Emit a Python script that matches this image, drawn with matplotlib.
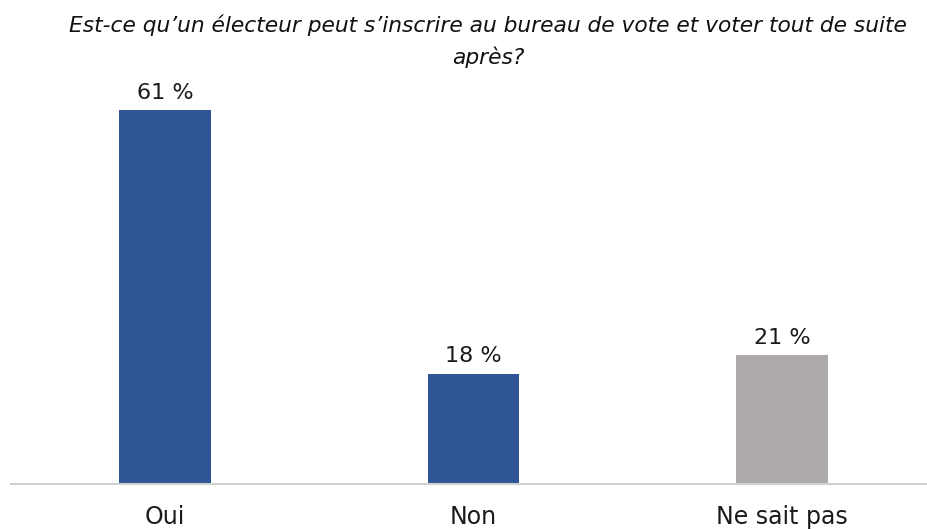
import matplotlib
matplotlib.use("Agg")
import matplotlib.pyplot as plt

categories = ["Oui", "Non", "Ne sait pas"]
values = [61, 18, 21]
labels = ["61 %", "18 %", "21 %"]
colors = ["#2F5597", "#2F5597", "#AEAAAA"]
title = "Est-ce qu\u2019un électeur peut s\u2019inscrire au bureau de vote et voter tout de suite\naprès?"

W, H = 927, 529
fig = plt.figure(figsize=(W / 100, H / 100), dpi=100)
base_px = 484
ax = fig.add_axes([11 / W, (H - base_px) / H, 1 - 11 / W, base_px / H])
x = list(range(len(categories)))
ax.bar(x, values, width=0.298, color=colors, zorder=2)
ax.set_xlim(-0.499, 2.47)
ax.set_ylim(0, base_px / 6.13)
for xi, v, lab in zip(x, values, labels):
    ax.text(xi, v + 1.2, lab, ha="center", va="bottom", fontsize=16,
            family="DejaVu Sans", color="#1a1a1a")
for s in ["left", "right", "top"]:
    ax.spines[s].set_visible(False)
ax.spines["bottom"].set_color("#D0D0D0")
ax.spines["bottom"].set_linewidth(1.5)
ax.set_yticks([])
ax.set_xticks(x)
ax.set_xticklabels(categories, fontsize=17, color="#1a1a1a")
ax.tick_params(axis="x", length=0, pad=15)
fig.text(488 / W, 1 - 41 / H, title, ha="center", va="center", fontsize=15.7,
         style="italic", family="DejaVu Sans", linespacing=1.6, color="#111111")
fig.savefig("out.png", dpi=100)
